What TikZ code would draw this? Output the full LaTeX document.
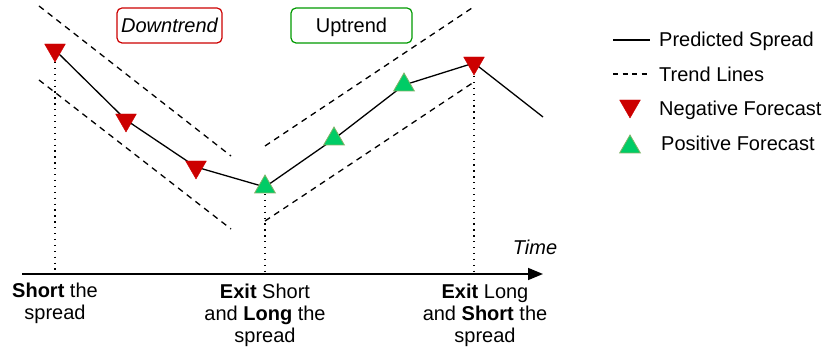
\documentclass[tikz,border=0pt]{standalone}
\usepackage{fontspec}
\setmainfont{Liberation Sans}
\usetikzlibrary{shapes.geometric,arrows.meta}
\definecolor{fred}{HTML}{CC0000}
\definecolor{fgreen}{HTML}{00CC66}
\definecolor{fgreenb}{HTML}{82B366}
\definecolor{boxred}{HTML}{CC0000}
\definecolor{boxgreen}{HTML}{009900}
\begin{document}
\begin{tikzpicture}[x=1pt,y=-1pt,
  font=\fontsize{20}{22}\selectfont,
  spread/.style={line width=1.3pt},
  trend/.style={line width=1.3pt, dash pattern=on 6pt off 5pt},
  guide/.style={line width=1.3pt, dash pattern=on 1.3pt off 4.6pt},
  negmark/.style={regular polygon, regular polygon sides=3, shape border rotate=180,
    minimum size=24pt, inner sep=0pt, fill=fred, draw=fred},
  posmark/.style={regular polygon, regular polygon sides=3,
    minimum size=24pt, inner sep=0pt, fill=fgreen, draw=fgreenb, line width=0.8pt},
  lbl/.style={align=center, inner sep=0pt, anchor=base},
  tbox/.style={draw, rounded corners=5pt, line width=1.2pt, minimum height=35pt,
    inner sep=0pt, text depth=0pt},
  legtext/.style={anchor=base west, inner sep=0pt}]
\useasboundingbox (0,0) rectangle (834,352);

% trend lines
\coordinate (du1) at (39,6);   \coordinate (du2) at (231,156);
\coordinate (dl1) at (39,80);  \coordinate (dl2) at (231,229);
\coordinate (uu1) at (265,146); \coordinate (uu2) at (475,6);
\coordinate (ul1) at (265,221); \coordinate (ul2) at (474,82);
\draw[trend] (du1) -- (du2);
\draw[trend] (dl1) -- (dl2);
\draw[trend] (uu1) -- (uu2);
\draw[trend] (ul1) -- (ul2);

% axis
\coordinate (ax0) at (22,274);
\coordinate (ax1) at (543,274);
\draw[line width=1.5pt, -{Triangle[length=15pt,width=12pt]}] (ax0) -- (ax1);

% spread points
\coordinate (p1) at (55,50);
\coordinate (p2) at (126,120);
\coordinate (p3) at (196,167);
\coordinate (p4) at (265,187);
\coordinate (p5) at (334,139);
\coordinate (p6) at (404,85);
\coordinate (p7) at (474,63);
\coordinate (p8) at (543,117);

% guides
\coordinate (g1) at (55,274);
\coordinate (g4) at (265,274);
\coordinate (g7) at (474,274);
\draw[guide] (55,62) -- (g1);
\draw[guide] (265,194) -- (g4);
\draw[guide] (474,76) -- (g7);

\draw[spread] (p1) -- (p2) -- (p3) -- (p4) -- (p5) -- (p6) -- (p7) -- (p8);

\node[negmark] (m1) at (p1) {};
\node[negmark] (m2) at (p2) {};
\node[negmark] (m3) at (p3) {};
\node[posmark] (m4) at (p4) {};
\node[posmark] (m5) at (p5) {};
\node[posmark] (m6) at (p6) {};
\node[negmark] (m7) at (p7) {};

% trend boxes
\node[tbox, draw=boxred, minimum width=105pt] (down) at (169.5,25.5) {\itshape Downtrend};
\node[tbox, draw=boxgreen, minimum width=121pt] (up) at (351.5,25.5) {Uptrend};

% axis label
\node[lbl] (time) at (535,255) {\itshape Time};

% action labels (base anchor = last line's baseline)
\node[lbl] (a1) at (55,319) {\textbf{Short} the\\spread};
\node[lbl] (a2) at (265,342) {\textbf{Exit} Short\\and \textbf{Long} the\\spread};
\node[lbl] (a3) at (485,342) {\textbf{Exit} Long\\and \textbf{Short} the\\spread};

% legend
\coordinate (l1a) at (613,40); \coordinate (l1b) at (650,40);
\coordinate (l2a) at (613,74); \coordinate (l2b) at (650,74);
\draw[spread] (l1a) -- (l1b);
\draw[line width=1.3pt, dash pattern=on 5pt off 4.5pt] (l2a) -- (l2b);
\node[negmark] (lneg) at (630,106) {};
\node[posmark] (lpos) at (630,147) {};
\node[legtext] (t1) at (659,47) {Predicted Spread};
\node[legtext] (t2) at (659,82) {Trend Lines};
\node[legtext] (t3) at (659,116) {Negative Forecast};
\node[legtext] (t4) at (661,151) {Positive Forecast};
\end{tikzpicture}
\end{document}
